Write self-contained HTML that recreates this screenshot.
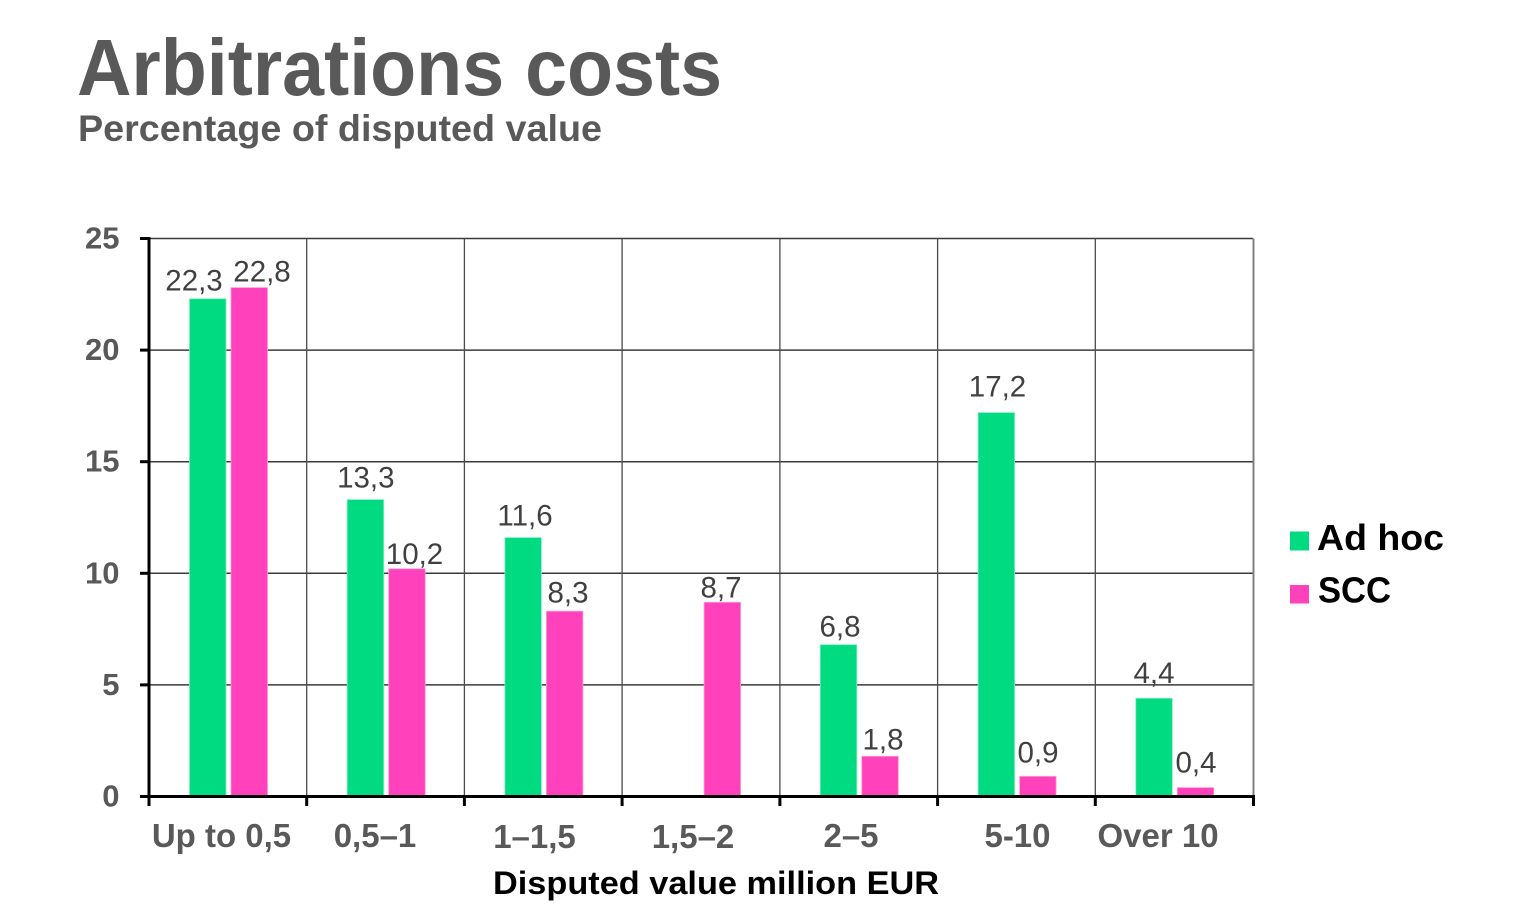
<!DOCTYPE html>
<html>
<head>
<meta charset="utf-8">
<style>
  html, body { margin:0; padding:0; background:#ffffff; }
  svg { display:block; }
  text { font-family: "Liberation Sans", Arial, sans-serif; }
</style>
</head>
<body>
<svg width="1516" height="915" viewBox="0 0 1516 915" xmlns="http://www.w3.org/2000/svg">
  <rect x="0" y="0" width="1516" height="915" fill="#ffffff"/>

  <!-- Title -->
  <text x="77" y="95" font-size="80" font-weight="bold" fill="#595959" textLength="645" lengthAdjust="spacingAndGlyphs">Arbitrations costs</text>
  <text x="78" y="141" font-size="37" font-weight="bold" fill="#595959" textLength="524" lengthAdjust="spacingAndGlyphs">Percentage of disputed value</text>

  <!-- Horizontal gridlines -->
  <g stroke="#3a3a3a" stroke-width="1.5">
    <line x1="149" y1="238.5" x2="1253" y2="238.5"/>
    <line x1="149" y1="350.1" x2="1253" y2="350.1"/>
    <line x1="149" y1="461.7" x2="1253" y2="461.7"/>
    <line x1="149" y1="573.3" x2="1253" y2="573.3"/>
    <line x1="149" y1="684.9" x2="1253" y2="684.9"/>
  </g>
  <!-- Vertical gridlines -->
  <g stroke="#4a4a4a" stroke-width="1.3">
    <line x1="306.7" y1="238.5" x2="306.7" y2="796.5"/>
    <line x1="464.4" y1="238.5" x2="464.4" y2="796.5"/>
    <line x1="622.1" y1="238.5" x2="622.1" y2="796.5"/>
    <line x1="779.9" y1="238.5" x2="779.9" y2="796.5"/>
    <line x1="937.6" y1="238.5" x2="937.6" y2="796.5"/>
    <line x1="1095.3" y1="238.5" x2="1095.3" y2="796.5"/>
  </g>
  <line x1="1253.5" y1="238.5" x2="1253.5" y2="796.5" stroke="#7f7f7f" stroke-width="2"/>

  <!-- Bars: Ad hoc (green) -->
  <g fill="#00DA80" stroke="#7eeebf" stroke-width="0.8">
    <rect x="189.5" y="298.8" width="36.5" height="497.7"/>
    <rect x="347.2" y="499.6" width="36.5" height="296.9"/>
    <rect x="504.9" y="537.6" width="36.5" height="258.9"/>
    <rect x="820.3" y="644.7" width="36.5" height="151.8"/>
    <rect x="978.1" y="412.6" width="36.5" height="383.9"/>
    <rect x="1135.8" y="698.3" width="36.5" height="98.2"/>
  </g>
  <!-- Bars: SCC (pink) -->
  <g fill="#FF41BC" stroke="#ff9ad8" stroke-width="0.8">
    <rect x="231" y="287.6" width="36.5" height="508.9"/>
    <rect x="388.7" y="568.8" width="36.5" height="227.7"/>
    <rect x="546.4" y="611.2" width="36.5" height="185.3"/>
    <rect x="704.1" y="602.3" width="36.5" height="194.2"/>
    <rect x="861.8" y="756.3" width="36.5" height="40.2"/>
    <rect x="1019.6" y="776.4" width="36.5" height="20.1"/>
    <rect x="1177.3" y="787.6" width="36.5" height="8.9"/>
  </g>

  <!-- Axes -->
  <line x1="149" y1="237" x2="149" y2="798" stroke="#000" stroke-width="3"/>
  <line x1="140" y1="796.5" x2="1255" y2="796.5" stroke="#000" stroke-width="3"/>
  <!-- Y ticks -->
  <g stroke="#000" stroke-width="3">
    <line x1="140" y1="238.5" x2="149" y2="238.5"/>
    <line x1="140" y1="350.1" x2="149" y2="350.1"/>
    <line x1="140" y1="461.7" x2="149" y2="461.7"/>
    <line x1="140" y1="573.3" x2="149" y2="573.3"/>
    <line x1="140" y1="684.9" x2="149" y2="684.9"/>
  </g>
  <!-- X ticks -->
  <g stroke="#000" stroke-width="3">
    <line x1="149" y1="796" x2="149" y2="806"/>
    <line x1="306.7" y1="796" x2="306.7" y2="806"/>
    <line x1="464.4" y1="796" x2="464.4" y2="806"/>
    <line x1="622.1" y1="796" x2="622.1" y2="806"/>
    <line x1="779.9" y1="796" x2="779.9" y2="806"/>
    <line x1="937.6" y1="796" x2="937.6" y2="806"/>
    <line x1="1095.3" y1="796" x2="1095.3" y2="806"/>
    <line x1="1253.5" y1="796" x2="1253.5" y2="806"/>
  </g>

  <!-- Y tick labels -->
  <g font-size="31" font-weight="bold" fill="#595959" text-anchor="end">
    <text x="119.5" y="248.5">25</text>
    <text x="119.5" y="360">20</text>
    <text x="119.5" y="471.7">15</text>
    <text x="119.5" y="583.3">10</text>
    <text x="119.5" y="695">5</text>
    <text x="119.5" y="806.5">0</text>
  </g>

  <!-- X category labels -->
  <g font-size="33" font-weight="bold" fill="#595959" text-anchor="middle">
    <text x="221.5" y="847">Up to 0,5</text>
    <text x="375" y="847">0,5–1</text>
    <text x="534.5" y="848">1–1,5</text>
    <text x="693" y="848">1,5–2</text>
    <text x="851" y="847">2–5</text>
    <text x="1017.5" y="847">5-10</text>
    <text x="1158" y="847">Over 10</text>
  </g>

  <!-- X axis title -->
  <text x="493" y="894" font-size="32" font-weight="bold" fill="#000" textLength="446" lengthAdjust="spacingAndGlyphs">Disputed value million EUR</text>

  <!-- Data labels -->
  <g font-size="29.5" fill="#404040" text-anchor="middle">
    <text x="194" y="290.7">22,3</text>
    <text x="262" y="281.7">22,8</text>
    <text x="365.8" y="487.3">13,3</text>
    <text x="414.5" y="564">10,2</text>
    <text x="525" y="525.7">11,6</text>
    <text x="568" y="602.7">8,3</text>
    <text x="721" y="597.7">8,7</text>
    <text x="840" y="636.7">6,8</text>
    <text x="883" y="749.3">1,8</text>
    <text x="997.5" y="396.7">17,2</text>
    <text x="1038" y="762.7">0,9</text>
    <text x="1154" y="683">4,4</text>
    <text x="1196" y="772.7">0,4</text>
  </g>

  <!-- Legend -->
  <rect x="1290" y="531.5" width="19" height="19" fill="#00DA80"/>
  <rect x="1290" y="585" width="19" height="18.5" fill="#FF41BC"/>
  <text x="1317" y="550" font-size="36" font-weight="bold" fill="#000" textLength="127" lengthAdjust="spacingAndGlyphs">Ad hoc</text>
  <text x="1318" y="602.3" font-size="36" font-weight="bold" fill="#000" textLength="73" lengthAdjust="spacingAndGlyphs">SCC</text>
</svg>
</body>
</html>
